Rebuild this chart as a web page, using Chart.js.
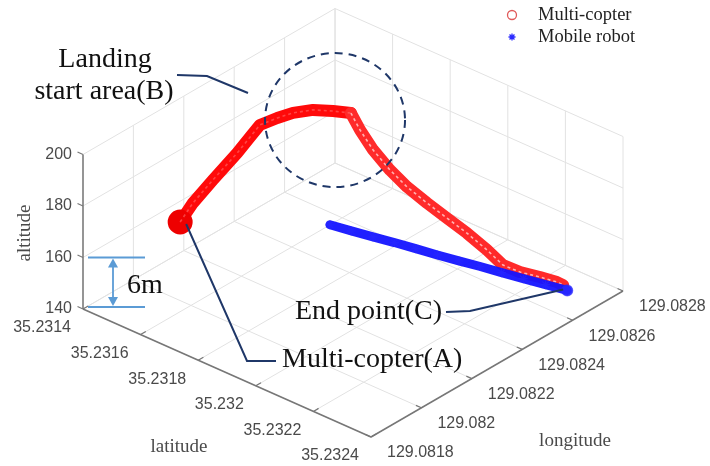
<!DOCTYPE html>
<html>
<head>
<meta charset="utf-8">
<script src="https://cdn.jsdelivr.net/npm/chart.js@4.4.1/dist/chart.umd.min.js"></script>
<style>
  html, body { margin: 0; padding: 0; background: #fff; }
  #wrap { width: 710px; height: 466px; position: relative; }
</style>
</head>
<body>
<div id="wrap"><canvas id="c"></canvas></div>
<script>
// Landing experiment log: GPS latitude / longitude in degrees, altitude in metres
const copterLat = [35.231453, 35.231466, 35.231497, 35.231532, 35.231547, 35.231560, 35.231588, 35.231619,
                   35.231657, 35.231709, 35.231751, 35.231774, 35.231815, 35.231864, 35.231911, 35.231961,
                   35.232007, 35.232054, 35.232107, 35.232146, 35.232186, 35.232224, 35.232266, 35.232284];
const copterLon = [129.082125, 129.082161, 129.082205, 129.082261, 129.082295, 129.082319, 129.082356, 129.082383,
                   129.082419, 129.082439, 129.082462, 129.082472, 129.082477, 129.082488, 129.082502, 129.082524,
                   129.082550, 129.082576, 129.082595, 129.082614, 129.082636, 129.082671, 129.082691, 129.082695];
const copterAlt = [158, 164, 172, 181, 186, 190, 192, 194, 195, 196, 196, 190,
                   184, 178, 173, 168, 163, 158, 153, 148, 146, 144, 143, 142.5];

const robotLat = [35.231609, 35.231671, 35.231734, 35.231796, 35.231858, 35.231921,
                  35.231984, 35.232046, 35.232108, 35.232171, 35.232236, 35.232299];
const robotLon = [129.082541, 129.082555, 129.082569, 129.082583, 129.082597, 129.082611,
                  129.082624, 129.082638, 129.082652, 129.082666, 129.082680, 129.082694];
const robotAlt = [141.1, 141.0, 141.0, 141.1, 141.0, 140.9, 141.0, 141.1, 141.0, 141.0, 141.1, 141.2];

const seriesNames = ['Multi-copter', 'Mobile robot'];

const latTicks = [35.2314, 35.2316, 35.2318, 35.232, 35.2322, 35.2324];
const lonTicks = [129.0818, 129.082, 129.0822, 129.0824, 129.0826, 129.0828];
const altTicks = [140, 160, 180, 200];
const latTickLabels = ['35.2314', '35.2316', '35.2318', '35.232', '35.2322', '35.2324'];
const lonTickLabels = ['129.0818', '129.082', '129.0822', '129.0824', '129.0826', '129.0828'];
const altTickLabels = ['140', '160', '180', '200'];

// Axis limits of the 3-D box
const LAT0 = 35.2314, LAT1 = 35.2324;
const LON0 = 129.0818, LON1 = 129.0828;
const ALT0 = 140, ALT1 = 200;

// Oblique view: each world axis (full range) maps to a fixed vector in plot units
const VIEW = { lat: [288, -128], lon: [252, 146], alt: [0, 154.5] };
function proj(lat, lon, alt) {
  const a = (lat - LAT0) / (LAT1 - LAT0);
  const b = (lon - LON0) / (LON1 - LON0);
  const c = (alt - ALT0) / (ALT1 - ALT0);
  return {
    x: a * VIEW.lat[0] + b * VIEW.lon[0] + c * VIEW.alt[0],
    y: a * VIEW.lat[1] + b * VIEW.lon[1] + c * VIEW.alt[1]
  };
}

const copterPts = copterLat.map((v, i) => proj(v, copterLon[i], copterAlt[i]));
const robotPts = robotLat.map((v, i) => proj(v, robotLon[i], robotAlt[i]));
const DESCENT_FROM = 10;

const SERIF = '"Liberation Serif", "Times New Roman", serif';
const SANS = '"Liberation Sans", Arial, sans-serif';

function toPx(chart, lat, lon, alt) {
  const p = proj(lat, lon, alt);
  return [chart.scales.x.getPixelForValue(p.x), chart.scales.y.getPixelForValue(p.y)];
}
function seg(ctx, p, q) { ctx.beginPath(); ctx.moveTo(p[0], p[1]); ctx.lineTo(q[0], q[1]); ctx.stroke(); }

// Grid walls, axes, ticks and axis labels of the 3-D box
const box3d = {
  id: 'box3d',
  beforeDatasetsDraw(chart) {
    const ctx = chart.ctx;
    const P = (la, lo, al) => toPx(chart, la, lo, al);
    ctx.save();
    ctx.lineWidth = 1;
    ctx.strokeStyle = '#e2e2e2';
    // floor
    latTicks.forEach(la => seg(ctx, P(la, LON0, ALT0), P(la, LON1, ALT0)));
    lonTicks.forEach(lo => seg(ctx, P(LAT0, lo, ALT0), P(LAT1, lo, ALT0)));
    // back-left wall (lat = min)
    lonTicks.forEach(lo => seg(ctx, P(LAT0, lo, ALT0), P(LAT0, lo, ALT1)));
    altTicks.forEach(al => seg(ctx, P(LAT0, LON0, al), P(LAT0, LON1, al)));
    // back-right wall (lon = max)
    latTicks.forEach(la => seg(ctx, P(la, LON1, ALT0), P(la, LON1, ALT1)));
    altTicks.forEach(al => seg(ctx, P(LAT0, LON1, al), P(LAT1, LON1, al)));

    // axes
    ctx.strokeStyle = '#777';
    ctx.lineWidth = 1.5;
    seg(ctx, P(LAT0, LON0, ALT0), P(LAT0, LON0, ALT1));
    seg(ctx, P(LAT0, LON0, ALT0), P(LAT1, LON0, ALT0));
    seg(ctx, P(LAT1, LON0, ALT0), P(LAT1, LON1, ALT0));

    // tick marks
    const unit = v => { const l = Math.hypot(v[0], v[1]); return [v[0] / l, v[1] / l]; };
    const o = P(LAT0, LON0, ALT0), la1 = P(LAT1, LON0, ALT0), lo1 = P(LAT0, LON1, ALT0);
    const dLat = unit([la1[0] - o[0], la1[1] - o[1]]);
    const dLon = unit([lo1[0] - o[0], lo1[1] - o[1]]);
    const T = 6;
    ctx.lineWidth = 1.2;
    altTicks.forEach(al => { const p = P(LAT0, LON0, al); seg(ctx, p, [p[0] - dLat[0] * T, p[1] - dLat[1] * T]); });
    latTicks.forEach(la => { const p = P(la, LON0, ALT0); seg(ctx, p, [p[0] + dLon[0] * T, p[1] + dLon[1] * T]); });
    lonTicks.forEach(lo => { const p = P(LAT1, lo, ALT0); seg(ctx, p, [p[0] - dLat[0] * T, p[1] - dLat[1] * T]); });

    // tick labels
    ctx.fillStyle = '#4a4a4a';
    ctx.font = '16px ' + SANS;
    ctx.textBaseline = 'middle';
    ctx.textAlign = 'right';
    altTicks.forEach((al, i) => { const p = P(LAT0, LON0, al); ctx.fillText(altTickLabels[i], p[0] - 11, p[1]); });
    latTicks.forEach((la, i) => { const p = P(la, LON0, ALT0); ctx.fillText(latTickLabels[i], p[0] - 12, p[1] + 19); });
    ctx.textAlign = 'left';
    lonTicks.forEach((lo, i) => { const p = P(LAT1, lo, ALT0); ctx.fillText(lonTickLabels[i], p[0] + 16, p[1] + 16); });

    // axis titles
    ctx.fillStyle = '#4a4a4a';
    ctx.font = '19px ' + SERIF;
    ctx.textAlign = 'center';
    ctx.fillText('latitude', 179, 447);
    ctx.fillText('longitude', 575, 441);
    ctx.save();
    ctx.translate(25, 233);
    ctx.rotate(-Math.PI / 2);
    ctx.fillText('altitude', 0, 0);
    ctx.restore();
    ctx.restore();
  }
};

// Legend and explanatory call-outs
const callouts = {
  id: 'callouts',
  afterDraw(chart) {
    const ctx = chart.ctx;
    const xs = chart.scales.x, ys = chart.scales.y;
    const px = p => [xs.getPixelForValue(p.x), ys.getPixelForValue(p.y)];
    ctx.save();

    // legend
    ctx.strokeStyle = '#e05a5a';
    ctx.lineWidth = 1.3;
    ctx.beginPath(); ctx.arc(512, 15, 4.5, 0, Math.PI * 2); ctx.stroke();
    ctx.strokeStyle = '#2a2aff';
    ctx.fillStyle = '#2a2aff';
    Chart.helpers.drawPoint(ctx, { pointStyle: 'star', radius: 3.5, rotation: 0, borderWidth: 1.2 }, 512, 37);
    ctx.font = '18.5px ' + SERIF;
    ctx.fillStyle = '#222';
    ctx.textAlign = 'left';
    ctx.textBaseline = 'middle';
    ctx.fillText(seriesNames[0], 538, 15);
    ctx.fillText(seriesNames[1], 538, 37);

    const navy = '#1f3768';
    ctx.strokeStyle = navy;
    ctx.lineWidth = 2;

    // landing start area (B)
    const peak = px(copterPts[9]);
    ctx.setLineDash([8, 6]);
    ctx.beginPath();
    ctx.ellipse(peak[0] + 2, peak[1] + 9, 70, 67, 0, 0, Math.PI * 2);
    ctx.stroke();
    ctx.setLineDash([]);
    ctx.beginPath(); ctx.moveTo(177, 75); ctx.lineTo(207, 76); ctx.lineTo(248, 93); ctx.stroke();

    // start point (A)
    const a0 = px(copterPts[0]);
    ctx.beginPath(); ctx.moveTo(a0[0] + 6, a0[1] + 2); ctx.lineTo(247, 361); ctx.lineTo(276, 361); ctx.stroke();

    // end point (C)
    const c0 = px(robotPts[robotPts.length - 1]);
    ctx.beginPath(); ctx.moveTo(446, 312); ctx.lineTo(470, 311); ctx.lineTo(c0[0] - 4, c0[1] - 1); ctx.stroke();

    ctx.fillStyle = '#111';
    ctx.font = '28px ' + SERIF;
    ctx.textAlign = 'center';
    ctx.fillText('Landing', 105, 60);
    ctx.fillText('start area(B)', 104, 92);
    ctx.textAlign = 'left';
    ctx.fillText('End point(C)', 295, 312);
    ctx.fillText('Multi-copter(A)', 282, 360);
    ctx.fillText('6m', 127, 286);

    // 6 m scale mark
    const blue = '#5b9bd5';
    const yTop = toPx(chart, LAT0, LON0, 160)[1];
    const yBot = toPx(chart, LAT0, LON0, 140)[1] - 2;
    const xa = toPx(chart, LAT0, LON0, 140)[0];
    ctx.strokeStyle = blue;
    ctx.fillStyle = blue;
    ctx.lineWidth = 1.8;
    seg(ctx, [xa + 5, yTop], [xa + 62, yTop]);
    seg(ctx, [xa + 5, yBot], [xa + 62, yBot]);
    const ax = xa + 30;
    seg(ctx, [ax, yTop + 8], [ax, yBot - 8]);
    ctx.beginPath(); ctx.moveTo(ax, yTop + 1); ctx.lineTo(ax - 5, yTop + 10); ctx.lineTo(ax + 5, yTop + 10); ctx.closePath(); ctx.fill();
    ctx.beginPath(); ctx.moveTo(ax, yBot - 1); ctx.lineTo(ax - 5, yBot - 10); ctx.lineTo(ax + 5, yBot - 10); ctx.closePath(); ctx.fill();

    ctx.restore();
  }
};

new Chart(document.getElementById('c'), {
  type: 'scatter',
  data: {
    datasets: [
      {
        label: seriesNames[1],
        data: robotPts,
        showLine: true,
        order: 0,
        borderColor: 'rgba(20,20,255,0.95)',
        borderWidth: 9,
        borderCapStyle: 'round',
        tension: 0,
        pointStyle: ctx => ctx.dataIndex === robotPts.length - 1 ? 'circle' : 'star',
        pointRadius: ctx => ctx.dataIndex === robotPts.length - 1 ? 5.5 : 4.5,
        pointBorderColor: 'rgba(40,40,255,0.6)',
        pointBackgroundColor: 'rgba(40,40,255,0.9)',
        pointBorderWidth: 1.2
      },
      {
        label: seriesNames[0] + ' trace',
        data: copterPts,
        showLine: true,
        order: 1,
        borderWidth: 1.6,
        borderDash: [3, 3],
        segment: {
          borderColor: c => c.p0DataIndex >= DESCENT_FROM ? 'rgba(255,200,200,0.85)' : 'rgba(255,140,140,0.45)'
        },
        tension: 0,
        pointRadius: 0
      },
      {
        label: seriesNames[0],
        data: copterPts,
        showLine: true,
        order: 2,
        borderWidth: 12,
        borderCapStyle: 'round',
        borderJoinStyle: 'round',
        segment: {
          borderColor: c => c.p0DataIndex >= DESCENT_FROM ? '#ff2a2a' : '#ff0a0a'
        },
        tension: 0,
        pointRadius: ctx => ctx.dataIndex === 0 ? 6.5 : 0,
        pointBackgroundColor: '#ff0000',
        pointBorderColor: '#ee0000'
      }
    ]
  },
  options: {
    responsive: true,
    maintainAspectRatio: false,
    animation: false,
    layout: { padding: 0, autoPadding: false },
    plugins: { legend: { display: false }, tooltip: { enabled: false } },
    scales: {
      x: { type: 'linear', min: -83, max: 627, display: false },
      y: { type: 'linear', min: -157, max: 309, display: false }
    }
  },
  plugins: [box3d, callouts]
});
</script>
</body>
</html>
